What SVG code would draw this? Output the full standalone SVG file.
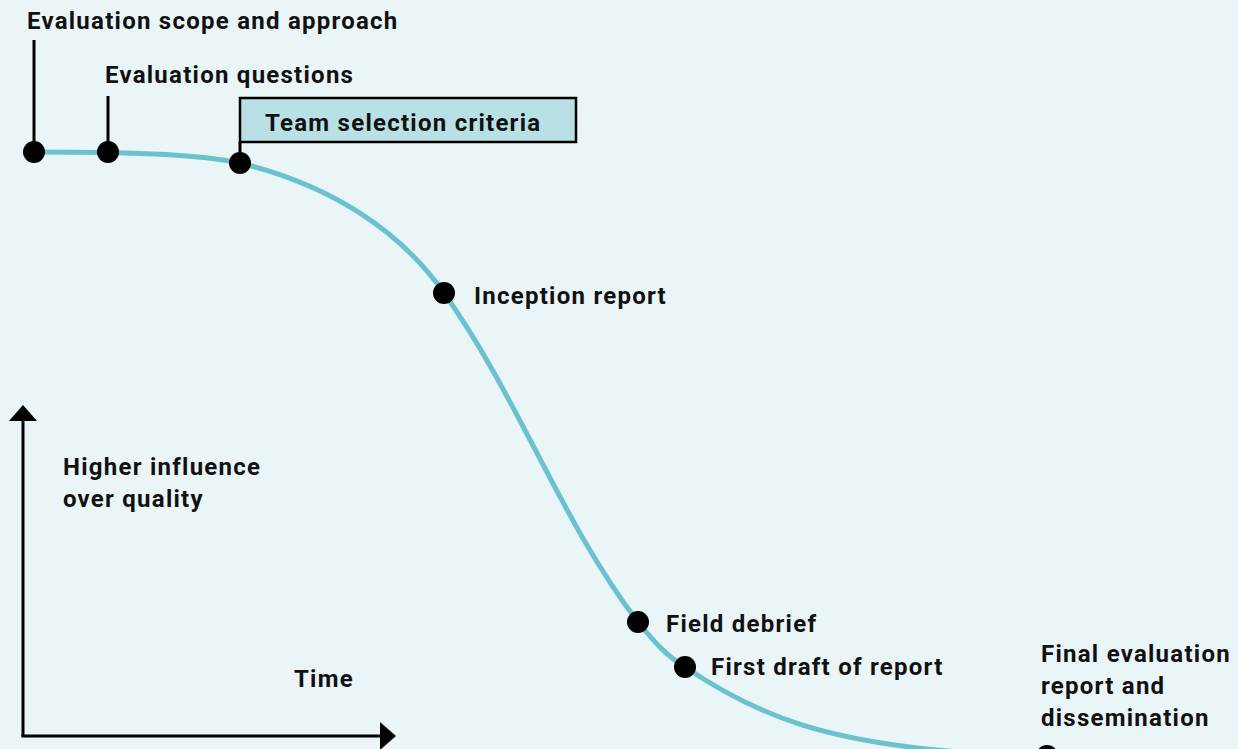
<svg xmlns="http://www.w3.org/2000/svg" width="1238" height="749" viewBox="0 0 1238 749">
<style>
.t{font-family:Roboto,"Liberation Sans",sans-serif;font-weight:bold;font-size:24px;letter-spacing:1.25px;fill:#111}
.ln{stroke:#000;stroke-width:3;fill:none}
.dot{fill:#000}
</style>
<rect x="0" y="0" width="1238" height="749" fill="#eaf5f8"/>
<g id="axes">
<line class="ln" x1="23" y1="737" x2="23" y2="420"/>
<path d="M9,421 L23,405 L37,421 Z" fill="#000"/>
<line class="ln" x1="21.5" y1="736" x2="382" y2="736"/>
<path d="M380,722 L396,736 L380,750 Z" fill="#000"/>
</g>
<g id="connectors">
<path d="M34,152 C150,152 200,155 240,163 C330,185 400,230 444,293 C520,400 560,520 638,622 C655,643 668,657 685,667 C760,718 830,742 960,752" fill="none" stroke="#6cc2cc" stroke-width="5"/>
<line class="ln" x1="34" y1="40" x2="34" y2="152"/>
<line class="ln" x1="108" y1="96" x2="108" y2="152"/>
<line class="ln" x1="240" y1="142" x2="240" y2="163"/>
</g>
<g id="n1"><circle class="dot" cx="34" cy="152" r="11"/><text class="t" x="27" y="29">Evaluation scope and approach</text></g>
<g id="n2"><circle class="dot" cx="108" cy="152" r="11"/><text class="t" x="105" y="83">Evaluation questions</text></g>
<g id="n3"><rect x="240" y="98" width="336" height="44" fill="#b9e0e5" stroke="#000" stroke-width="2.5"/><circle class="dot" cx="240" cy="163" r="11"/><text class="t" x="265" y="131">Team selection criteria</text></g>
<g id="n4"><circle class="dot" cx="444" cy="293" r="11"/><text class="t" x="474" y="304">Inception report</text></g>
<g id="n5"><circle class="dot" cx="638" cy="622" r="11"/><text class="t" x="666" y="632">Field debrief</text></g>
<g id="n6"><circle class="dot" cx="685" cy="667" r="11"/><text class="t" x="711" y="675">First draft of report</text></g>
<g id="n7"><circle class="dot" cx="1047" cy="756" r="11"/><text class="t" x="1041" y="662">Final evaluation</text><text class="t" x="1041" y="694">report and</text><text class="t" x="1041" y="726">dissemination</text></g>
<g id="ylabel"><text class="t" x="63" y="475">Higher influence</text><text class="t" x="63" y="507">over quality</text></g>
<g id="xlabel"><text class="t" x="294" y="687">Time</text></g>
</svg>
